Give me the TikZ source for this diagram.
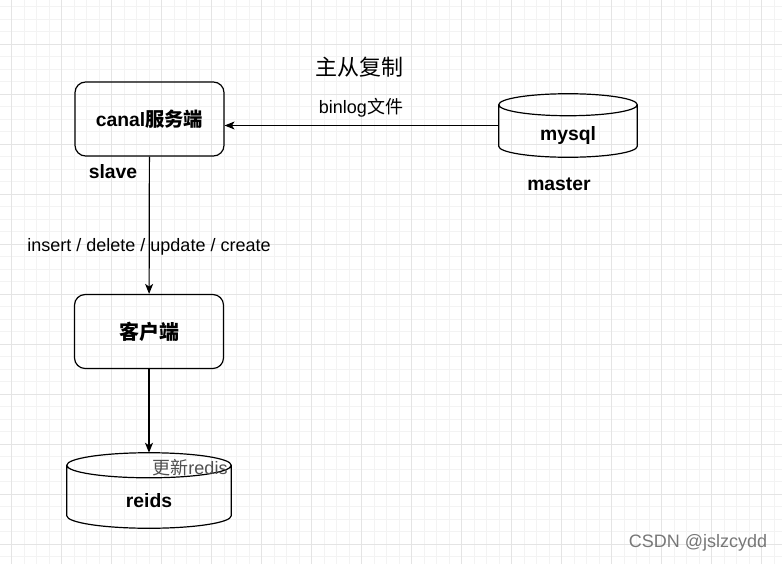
\documentclass[tikz,border=0pt]{standalone}
\usepackage{fontspec}
\setmainfont{Liberation Sans}
\newfontfamily\cjk{Noto Sans CJK SC}
\usetikzlibrary{calc,arrows.meta}

\definecolor{gridminor}{HTML}{F3F3F3}
\definecolor{gridmajor}{HTML}{E4E4E4}
\definecolor{wmgray}{HTML}{777777}
\definecolor{lblgray}{HTML}{505050}

\tikzstyle{box} = [draw, line width=0.9pt, rounded corners=8pt, minimum width=111.75pt, minimum height=55.5pt, inner sep=0pt]
\tikzstyle{dbbox} = [draw=none, rectangle, inner sep=0pt]
\tikzstyle{boldtxt} = [font=\fontsize{14.5pt}{17pt}\selectfont\bfseries, inner sep=0pt]
\tikzstyle{txt} = [font=\fontsize{13.5pt}{16pt}\selectfont, inner sep=0pt]
\tikzstyle{arr} = [line width=0.9pt, -{Stealth[length=7.5pt,width=6pt,inset=2pt]}]

% cylinder round a node: #1 node name, #2 radius of the caps
\newcommand{\dbshape}[2]{%
  \draw[line width=0.9pt] let \p1=(#1.north west), \p2=(#1.south east), \n1={(\x2-\x1)/2} in
    ({\x1},{\y1-#2}) -- ({\x1},{\y2+#2})
    arc[start angle=180, end angle=360, x radius=\n1, y radius=#2]
    -- ({\x2},{\y1-#2})
    arc[start angle=0, end angle=180, x radius=\n1, y radius=#2]
    arc[start angle=180, end angle=360, x radius=\n1, y radius=#2];
}

\begin{document}
\begin{tikzpicture}[x=0.75pt, y=-0.75pt]
\useasboundingbox (0,0) rectangle (782,564);
% grid
\foreach \i in {0,...,63} \draw[gridminor, line width=0.6pt] (-0.8+12.5*\i,0) -- (-0.8+12.5*\i,564);
\foreach \i in {0,...,45} \draw[gridminor, line width=0.6pt] (0,6.5+12.5*\i) -- (782,6.5+12.5*\i);
\foreach \i in {0,...,15} \draw[gridmajor, line width=0.6pt] (11.7+50*\i,0) -- (11.7+50*\i,564);
\foreach \i in {0,...,11} \draw[gridmajor, line width=0.6pt] (0,44+50*\i) -- (782,44+50*\i);

\node[font=\fontsize{16.5pt}{19pt}\selectfont\cjk, inner sep=0pt] (title) at (359,67) {主从复制};
\node[box, font=\fontsize{14.5pt}{17pt}\selectfont\bfseries] (canal) at (149.5,119) {canal{\cjk 服务端}};
\node[boldtxt] (slave) at (113,172) {slave};
\node[dbbox, minimum width=103.5pt, minimum height=47.25pt] (mysql) at (568,125.5) {};
\dbshape{mysql}{8.25pt}
\node[boldtxt] (mysqltxt) at (568,135) {mysql};
\node[boldtxt] (master) at (559,184) {master};
\node[box, font=\fontsize{15pt}{17pt}\selectfont\cjk\bfseries] (client) at (149,331.5) {客户端};
\node[dbbox, minimum width=123pt, minimum height=56.25pt] (reids) at (149,490.5) {};
\dbshape{reids}{9.4pt}
\node[boldtxt] (reidstxt) at (149,501) {reids};

\draw[arr] (mysql.west) -- (mysql.west -| canal.east);
\node[txt] (binlog) at (361,108) {binlog{\cjk 文件}};
\draw[arr] (canal) -- (client);
\node[txt] (ops) at (149,247) {insert / delete / update / create};
\draw[arr] (client) -- (reids);
\node[txt, text=lblgray] (upd) at (190,468) {{\cjk 更新}redis};

\node[txt, text=wmgray] (csdn) at (698,543) {CSDN @jslzcydd};
\end{tikzpicture}
\end{document}
